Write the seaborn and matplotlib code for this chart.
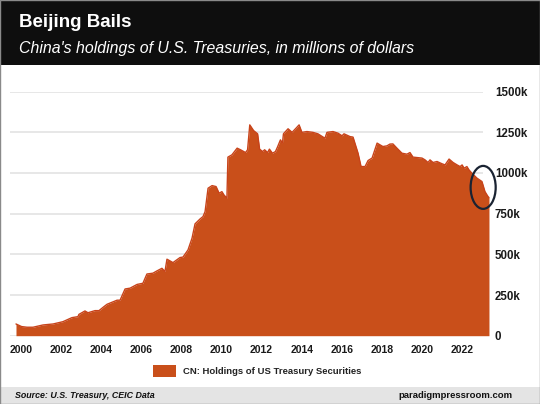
import matplotlib
matplotlib.use('Agg')
import matplotlib.pyplot as plt
from matplotlib.patches import Ellipse, Rectangle, Patch
import pandas as pd
import seaborn as sns

# China's holdings of U.S. Treasuries (thousands of millions USD)
years = [1999.75, 2000.03, 2000.30, 2000.60, 2001.10, 2001.60, 2002.09, 2002.54,
         2002.84, 2002.89, 2003.19, 2003.34, 2003.69, 2003.89, 2004.09, 2004.29,
         2004.79, 2004.94, 2005.19, 2005.44, 2005.79, 2006.08, 2006.28, 2006.58,
         2006.78, 2007.03, 2007.18, 2007.28, 2007.58, 2007.93, 2008.08, 2008.33,
         2008.53, 2008.68, 2008.93, 2009.08, 2009.18, 2009.33, 2009.53, 2009.73,
         2009.88, 2010.02, 2010.12, 2010.27, 2010.32, 2010.52, 2010.78, 2010.95,
         2011.20, 2011.30, 2011.41, 2011.60, 2011.80, 2011.90, 2012.05, 2012.15,
         2012.30, 2012.39, 2012.54, 2012.69, 2012.79, 2012.94, 2013.04, 2013.09,
         2013.32, 2013.52, 2013.72, 2013.87, 2014.01, 2014.26, 2014.56, 2014.81,
         2015.16, 2015.26, 2015.56, 2015.81, 2016.01, 2016.11, 2016.41, 2016.56,
         2016.81, 2016.96, 2017.16, 2017.31, 2017.51, 2017.76, 2017.91, 2018.05,
         2018.25, 2018.40, 2018.55, 2018.75, 2019.00, 2019.25, 2019.40, 2019.55,
         2020.00, 2020.15, 2020.30, 2020.40, 2020.55, 2020.75, 2021.00, 2021.15,
         2021.35, 2021.55, 2021.75, 2021.90, 2022.00, 2022.10, 2022.24, 2022.34,
         2022.49, 2022.74, 2022.99, 2023.14, 2023.29, 2023.34]
holdings = [72, 56, 52, 52, 66, 72, 86, 111,
            117, 131, 152, 141, 154, 154, 174, 193,
            218, 218, 287, 292, 315, 322, 379, 384,
            398, 414, 394, 470, 449, 480, 483, 527,
            599, 687, 717, 732, 762, 906, 922, 916,
            875, 885, 865, 845, 1097, 1111, 1152, 1142,
            1125, 1142, 1295, 1260, 1240, 1146, 1131, 1142,
            1125, 1146, 1121, 1131, 1158, 1203, 1183, 1240,
            1271, 1249, 1275, 1295, 1249, 1254, 1249, 1240,
            1213, 1249, 1254, 1244, 1228, 1240, 1223, 1220,
            1121, 1039, 1039, 1076, 1091, 1183, 1172, 1162,
            1166, 1177, 1178, 1152, 1121, 1115, 1125, 1097,
            1091, 1080, 1064, 1080, 1064, 1070, 1056, 1049,
            1085, 1064, 1049, 1039, 1049, 1029, 1039, 1019,
            998, 968, 947, 885, 855, 848]

xtick_years = [2000, 2002, 2004, 2006, 2008, 2010, 2012, 2014, 2016, 2018, 2020, 2022]
ytick_vals = [0, 250, 500, 750, 1000, 1250, 1500]
ytick_labels = ['0', '250k', '500k', '750k', '1000k', '1250k', '1500k']
series_name = 'CN: Holdings of US Treasury Securities'

df = pd.DataFrame({'year': years, 'holdings': holdings})

sns.set_theme(style='white')
plt.rcParams['font.family'] = ['Liberation Sans', 'DejaVu Sans']

W, H = 540, 404
fig = plt.figure(figsize=(W / 100, H / 100), dpi=100)
fig.patch.set_facecolor('white')

# header and footer bands
fig.add_artist(Rectangle((0, 1 - 65 / H), 1, 65 / H, transform=fig.transFigure,
                         facecolor='#0e0e0e', edgecolor='none', zorder=0))
fig.add_artist(Rectangle((0, 0), 1, 17 / H, transform=fig.transFigure,
                         facecolor='#e4e4e4', edgecolor='none', zorder=0))
fig.add_artist(Rectangle((0, 0), 1, 1, transform=fig.transFigure,
                         facecolor='none', edgecolor='#8a8a8a', linewidth=1, zorder=5))

fig.text(19 / W, 1 - 27 / H, 'Beijing Bails', color='white', fontsize=13.5,
         fontweight='bold', va='baseline')
fig.text(19 / W, 1 - 53 / H, "China's holdings of U.S. Treasuries, in millions of dollars",
         color='white', fontsize=11.4, fontstyle='italic', va='baseline')
fig.text(15 / W, 1 - 398 / H, 'Source: U.S. Treasury, CEIC Data', color='#111111',
         fontsize=6.4, fontweight='bold', fontstyle='italic', va='baseline')
fig.text(513 / W, 1 - 398 / H, 'paradigmpressroom.com', color='#111111',
         fontsize=6.8, fontweight='bold', ha='right', va='baseline')

ax = fig.add_axes([10 / W, 1 - 335.7 / H, 473 / W, 244.2 / H])
ax.set_facecolor('none')

for v in ytick_vals:
    ax.axhline(v, color='#e0e0e0', linewidth=1.1, zorder=0)

fill_color = '#c94f1a'
ax.fill_between(df['year'], df['holdings'], 0, color=fill_color, linewidth=0,
                zorder=2, clip_on=False)
sns.lineplot(data=df, x='year', y='holdings', ax=ax, color='#c8431a', linewidth=1,
             zorder=3, clip_on=False, sort=False, estimator=None)

# highlight the latest decline
ax.add_patch(Ellipse((2023.05, 911), 1.25, 264, facecolor='none', edgecolor='#1a2332',
                     linewidth=1.6, zorder=4, clip_on=False))

# x axis: year labels sit 20.05 px apart, 2000 at px 21
ax.set_xlim(2000 - 11 / 20.05, 2000 + 462 / 20.05)
ax.set_ylim(0, 1500)
ax.set_xticks(xtick_years)
ax.set_xticklabels([str(y) for y in xtick_years], fontsize=7.5, fontweight='bold',
                   color='#1a1a1a')
ax.yaxis.tick_right()
ax.set_yticks(ytick_vals)
ax.set_yticklabels(ytick_labels, fontsize=8.3, fontweight='bold', color='#1a1a1a',
                   ha='left')
ax.tick_params(axis='x', length=0, pad=7)
ax.tick_params(axis='y', length=0, pad=8.5)
ax.set_xlabel('')
ax.set_ylabel('')
for s in ax.spines.values():
    s.set_visible(False)

fig.legend(handles=[Patch(facecolor=fill_color, edgecolor='none', label=series_name)],
           loc='center', bbox_to_anchor=(257 / W, 1 - 371 / H), frameon=False,
           prop={'size': 6.8, 'weight': 'bold'}, labelcolor='#222222',
           handlelength=2.4, handleheight=1.5, handletextpad=0.75)

fig.savefig('out.png', dpi=100)
